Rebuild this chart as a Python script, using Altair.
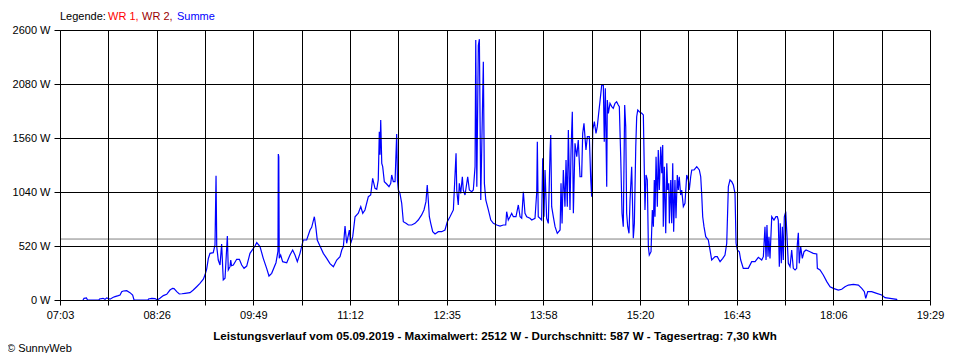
import altair as alt
import pandas as pd

# time of day in minutes since midnight, power in W (Summe)
minutes = [442.7, 443.6, 445.7, 446.6, 456.4, 456.9, 459.9, 461.6, 463.0, 465.9, 468.7, 470.2, 473.0, 474.5, 475.9, 477.3, 480.2, 483.0, 485.3, 486.5,
           498.5, 498.9, 501.7, 504.5, 506.4, 508.7, 511.6, 514.5, 517.3, 519.5, 520.8, 523.1, 525.3, 527.6, 530.2, 534.5, 537.3, 540.2, 543.0, 545.9,
           547.3, 548.8, 550.2, 551.6, 554.4, 555.9, 556.8, 557.4, 558.7, 560.2, 561.6, 563.0, 564.5, 566.5, 567.3, 568.8, 569.4, 570.1, 571.6, 574.5,
           576.8, 578.8, 580.8, 583.1, 585.9, 590.2, 591.7, 594.5, 597.3, 600.2, 602.2, 604.5, 608.2, 609.9, 610.2, 610.6, 611.0, 612.2, 613.9, 617.4,
           620.2, 622.5, 624.5, 626.5, 628.8, 631.6, 634.5, 637.4, 638.8, 641.1, 642.5, 643.6, 645.9, 648.8, 651.7, 654.5, 657.4, 660.3, 663.1, 664.6,
           666.0, 667.4, 668.8, 671.1, 672.3, 674.0, 676.0, 678.8, 680.9, 682.6, 684.5, 687.4, 689.4, 691.1, 693.1, 694.6, 695.9, 696.8, 697.4, 698.0,
           698.9, 699.7, 701.1, 703.1, 705.1, 706.6, 707.4, 708.8, 710.3, 711.7, 712.4, 713.1, 714.5, 716.0, 717.4, 719.7, 721.7, 724.6, 727.4, 730.2,
           733.1, 735.1, 736.8, 737.9, 738.8, 739.7, 740.9, 742.6, 744.6, 747.4, 750.3, 753.1, 755.1, 757.4, 760.3, 762.6, 763.2, 764.5, 765.4, 766.6,
           768.0, 768.8, 770.3, 772.6, 774.0, 776.0, 777.4, 778.9, 779.5, 780.4, 781.7, 782.6, 783.8, 786.0, 786.9, 788.1, 790.3, 792.4, 794.6, 797.5,
           800.3, 803.2, 805.2, 806.0, 807.4, 808.9, 810.3, 811.7, 814.0, 816.0, 817.5, 818.9, 820.3, 821.7, 823.2, 826.0, 827.5, 830.3, 831.8, 832.3,
           833.1, 834.6, 836.0, 836.9, 838.0, 838.9, 840.3, 841.7, 843.2, 843.8, 844.6, 846.0, 847.5, 849.4, 851.8, 852.6, 853.5, 854.6, 856.0, 856.9,
           858.0, 858.9, 860.3, 861.2, 862.3, 863.2, 864.6, 866.1, 867.4, 868.9, 870.3, 871.2, 872.3, 874.0, 875.2, 876.9, 878.1, 878.9, 879.8, 881.2,
           882.6, 883.7, 884.9, 886.0, 887.5, 888.9, 889.7, 890.6, 891.8, 892.3, 893.2, 894.6, 896.1, 897.4, 898.9, 900.3, 901.7, 902.6, 903.8, 904.9,
           906.0, 907.2, 908.1, 908.9, 909.8, 910.9, 911.8, 913.2, 914.6, 915.5, 916.7, 917.5, 918.4, 919.8, 921.8, 923.2, 924.0, 924.6, 925.5, 926.6,
           927.5, 928.3, 929.8, 930.9, 931.8, 932.6, 933.2, 934.1, 935.2, 936.0, 936.9, 938.1, 939.0, 939.8, 940.3, 941.2, 942.4, 943.3, 944.1, 945.0,
           945.5, 946.7, 947.5, 948.4, 949.2, 950.3, 951.2, 952.3, 953.2, 954.0, 955.2, 956.1, 957.5, 958.9, 960.4, 961.8, 962.6, 963.8, 964.7, 966.7,
           969.0, 971.2, 972.4, 973.2, 974.1, 975.2, 976.7, 978.9, 980.4, 981.8, 984.7, 986.6, 989.0, 991.3, 993.2, 994.7, 996.1, 997.5, 999.0, 1000.4,
           1001.8, 1002.7, 1003.8, 1005.5, 1006.7, 1008.9, 1013.2, 1016.1, 1019.0, 1021.8, 1024.7, 1026.1, 1027.5, 1028.4, 1029.2, 1030.1, 1030.9, 1031.8, 1033.3, 1035.2,
           1036.9, 1038.1, 1038.9, 1039.8, 1040.6, 1041.5, 1042.4, 1043.2, 1044.1, 1045.3, 1046.4, 1047.5, 1049.0, 1050.4, 1051.8, 1053.3, 1054.7, 1055.2, 1056.1, 1056.9,
           1058.1, 1059.5, 1061.0, 1062.7, 1066.1, 1068.9, 1071.9, 1072.4, 1074.7, 1077.5, 1080.5, 1083.3, 1086.1, 1090.4, 1093.3, 1096.1, 1099.0, 1103.3, 1107.6, 1110.5,
           1112.7, 1113.9, 1115.6, 1119.0, 1123.3, 1127.6, 1130.4, 1134.7, 1140.4, 1140.7]

watts = [0, 16, 20, 0, 0, 10, 16, 6, 20, 8, 26, 32, 42, 48, 80, 87, 90, 71, 48, 0,
         0, 10, 16, 14, 0, 16, 42, 55, 96, 112, 110, 80, 58, 60, 64, 71, 96, 128, 160, 200,
         240, 300, 400, 449, 456, 530, 1197, 514, 385, 337, 539, 193, 209, 616, 289, 321, 385, 330, 337, 392,
         392, 337, 305, 327, 449, 520, 552, 514, 401, 305, 231, 257, 359, 470, 1406, 1380, 401, 433, 369, 359,
         433, 481, 433, 369, 449, 578, 578, 674, 700, 802, 690, 578, 520, 449, 401, 350, 321, 385, 417, 481,
         514, 712, 546, 674, 546, 610, 802, 835, 899, 835, 867, 995, 1011, 1172, 1076, 1066, 1156, 1621, 1400, 1733,
         1316, 1284, 1139, 1117, 1091, 1123, 1204, 1139, 1139, 1599, 1150, 1059, 1027, 931, 754, 738, 722, 722, 738, 770,
         819, 867, 947, 1107, 963, 802, 738, 658, 636, 658, 658, 674, 754, 802, 867, 1412, 1059, 915, 1123, 1027,
         1187, 1059, 1011, 1187, 1059, 1043, 1059, 1284, 2504, 1091, 2450, 2512, 963, 2295, 1123, 963, 867, 770, 738, 722,
         712, 722, 722, 850, 770, 802, 835, 802, 802, 915, 802, 787, 1043, 835, 802, 787, 770, 787, 1043, 1524,
         802, 787, 770, 1364, 802, 1252, 787, 738, 1428, 1589, 899, 802, 706, 642, 674, 1123, 738, 1252, 899, 1348,
         899, 1637, 867, 1444, 1813, 835, 1509, 1380, 1541, 1187, 1187, 1605, 1701, 1444, 1573, 1573, 1156, 995, 1637, 1717,
         1605, 1669, 1798, 1910, 2070, 2070, 1524, 2038, 1091, 1926, 1798, 1894, 1862, 1846, 1894, 1910, 1878, 1862, 1380, 835,
         706, 1878, 1669, 835, 706, 642, 963, 1284, 594, 738, 1476, 1765, 1829, 1813, 1798, 1782, 1268, 867, 1204, 1156,
         514, 433, 465, 867, 706, 1156, 802, 1380, 899, 1444, 1059, 1476, 1220, 1492, 706, 1284, 642, 1316, 1059, 1123,
         738, 1156, 738, 1316, 658, 1156, 787, 1204, 1059, 1187, 1011, 1059, 899, 931, 1204, 1156, 1059, 1187, 1252, 1252,
         1284, 1252, 1187, 1027, 802, 706, 610, 578, 481, 385, 417, 417, 369, 401, 433, 546, 1091, 1156, 1139, 1107,
         1027, 546, 481, 465, 385, 305, 305, 369, 369, 411, 385, 417, 706, 385, 722, 417, 610, 401, 802, 770,
         802, 802, 770, 321, 738, 353, 706, 385, 802, 851, 610, 353, 321, 481, 305, 289, 305, 530, 648, 353,
         514, 401, 465, 481, 465, 449, 443, 305, 289, 241, 177, 128, 112, 96, 103, 128, 144, 151, 144, 112,
         80, 16, 80, 80, 64, 48, 22, 16, 6, 0]

average_w = [587]

x_start, x_end = 423, 1169  # 07:03 .. 19:29
x_labels = ["07:03", "", "08:26", "", "09:49", "", "11:12", "", "12:35", "",
            "13:58", "", "15:20", "", "16:43", "", "18:06", "", "19:29"]
x_ticks = [x_start + k * (x_end - x_start) / 18 for k in range(19)]
y_ticks = [0, 520, 1040, 1560, 2080, 2600]

legend_parts = ["Legende:", "WR 1,", "WR 2,", "Summe"]
legend_colors = ["#000000", "#ff0000", "#990000", "#0000ff"]
legend_offsets = [0, 48, 82, 117]

footer_title = "Leistungsverlauf vom 05.09.2019 - Maximalwert: 2512 W - Durchschnitt: 587 W - Tagesertrag: 7,30 kWh"
copyright_text = "© SunnyWeb"

FONT = "Liberation Sans"

df = pd.DataFrame({"t": minutes, "w": watts})

label_expr = ("[" + ",".join("'%s'" % l for l in x_labels) + "][indexof(["
              + ",".join(str(round(v)) for v in x_ticks) + "], round(datum.value))]")

x_enc = alt.X("t:Q", scale=alt.Scale(domain=[x_start, x_end], nice=False, zero=False),
              axis=alt.Axis(values=x_ticks, labelExpr=label_expr, title=None, grid=True,
                            gridColor="#000000", gridOpacity=1, gridWidth=1,
                            domainColor="#000000", tickColor="#000000", tickSize=5,
                            labelColor="#000000", labelFont=FONT, labelFontSize=11,
                            labelPadding=4, labelAngle=0, labelOverlap=False,
                            labelFlush=False, zindex=1))
y_enc = alt.Y("w:Q", scale=alt.Scale(domain=[0, 2600], nice=False),
              axis=alt.Axis(values=y_ticks, labelExpr="datum.value + ' W'", title=None, grid=True,
                            gridColor="#000000", gridOpacity=1, gridWidth=1,
                            domainColor="#000000", tickColor="#000000", tickSize=6,
                            labelColor="#000000", labelFont=FONT, labelFontSize=11,
                            labelPadding=4, labelOverlap=False, zindex=1))

line = alt.Chart(df).mark_line(color="#0000ff", strokeWidth=1.2, clip=True).encode(x=x_enc, y=y_enc)

avg = alt.Chart(pd.DataFrame({"w": average_w})).mark_rule(color="#808080", strokeWidth=1).encode(y="w:Q")

layers = [avg, line]
for part, col, off in zip(legend_parts, legend_colors, legend_offsets):
    layers.append(
        alt.Chart(pd.DataFrame({"s": [part]})).mark_text(
            align="left", baseline="alphabetic", font=FONT, fontSize=11, color=col
        ).encode(x=alt.value(off), y=alt.value(-10), text="s:N")
    )

layers.append(
    alt.Chart(pd.DataFrame({"s": [footer_title]})).mark_text(
        align="center", baseline="alphabetic", font=FONT, fontSize=11.6, fontWeight="bold", color="#000000"
    ).encode(x=alt.value(435), y=alt.value(310), text="s:N")
)
layers.append(
    alt.Chart(pd.DataFrame({"s": [copyright_text]})).mark_text(
        align="left", baseline="alphabetic", font=FONT, fontSize=11, color="#000000"
    ).encode(x=alt.value(-53), y=alt.value(322), text="s:N")
)

chart = alt.layer(*layers).properties(
    width=870, height=270,
    autosize=alt.AutoSizeParams(type="none"),
    padding={"left": 52, "top": 22, "right": 22, "bottom": 53},
    background="#ffffff",
).configure_view(stroke=None)

chart.save("out.html", embed_options={"renderer": "svg", "actions": False})
